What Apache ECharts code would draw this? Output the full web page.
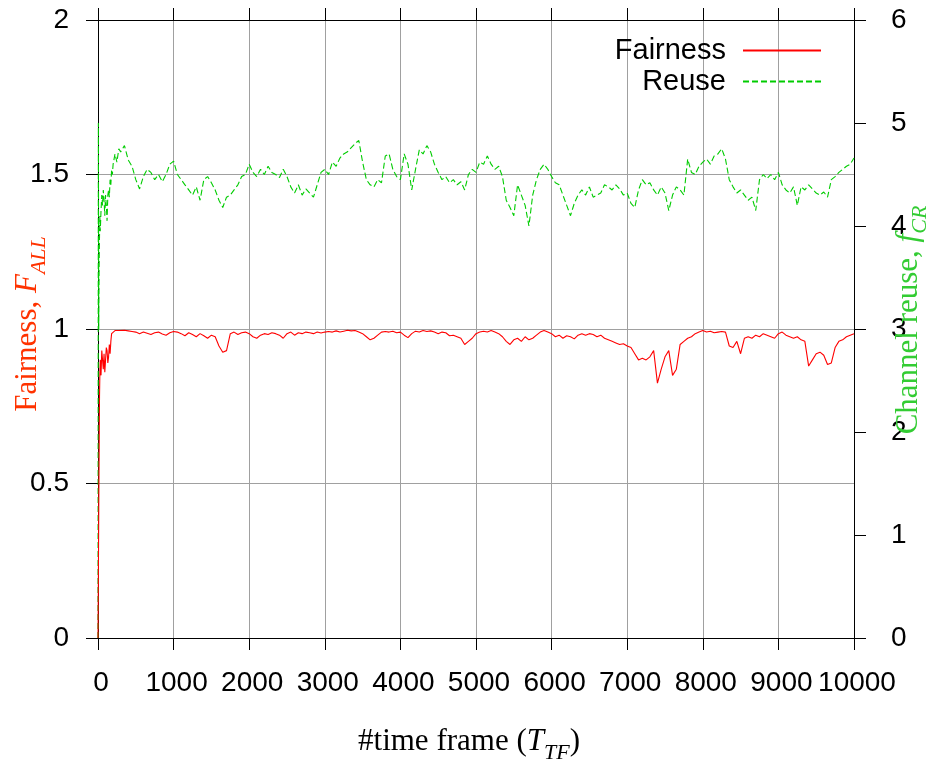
<!DOCTYPE html>
<html>
<head>
<meta charset="utf-8">
<script src="https://cdn.jsdelivr.net/npm/echarts@6/dist/echarts.min.js"></script>
<style>
html,body{margin:0;padding:0;background:#fff;}
#chart{width:931px;height:765px;}
</style>
</head>
<body>
<div id="chart"></div>
<script>
// time frames (x values)
const timeFrames = [
  0,5,10,15,20,25,30,40,50,60,70,80,90,100,110,120,130,140,150,160,170,180,190,200,225,250,275,
  300,350,400,450,500,550,600,650,700,750,800,850,900,950,
  1000,1050,1100,1150,1200,1250,1300,1350,1400,1450,1500,1550,1600,1650,1700,1750,1800,1850,1900,1950,
  2000,2050,2100,2150,2200,2250,2300,2350,2400,2450,2500,2550,2600,2650,2700,2750,2800,2850,2900,2950,
  3000,3050,3100,3150,3200,3250,3300,3350,3400,3450,3500,3550,3600,3650,3700,3750,3800,3850,3900,3950,
  4000,4050,4100,4150,4200,4250,4300,4350,4400,4450,4500,4550,4600,4650,4700,4750,4800,4850,4900,4950,
  5000,5050,5100,5150,5200,5250,5300,5350,5400,5450,5500,5550,5600,5650,5700,5750,5800,5850,5900,5950,
  6000,6050,6100,6150,6200,6250,6300,6350,6400,6450,6500,6550,6600,6650,6700,6750,6800,6850,6900,6950,
  7000,7050,7100,7150,7200,7250,7300,7350,7400,7450,7500,7550,7600,7650,7700,7750,7800,7850,7900,7950,
  8000,8050,8100,8150,8200,8250,8300,8350,8400,8450,8500,8550,8600,8650,8700,8750,8800,8850,8900,8950,
  9000,9050,9100,9150,9200,9250,9300,9350,9400,9450,9500,9550,9600,9650,9700,9750,9800,9850,9900,9950,
  10000
];

// Fairness F_ALL (left axis)
const fairness = [
  0,0.2,0.42,0.6,0.78,0.86,0.9,0.85,0.93,0.9,0.87,0.92,0.86,0.9,0.94,0.93,0.89,0.91,0.95,0.92,0.96,0.985,0.99,0.99,0.995,0.99,0.995,
  0.993,0.996,0.994,0.992,0.99,0.985,0.99,0.986,0.982,0.988,0.99,0.984,0.98,0.988,
  0.992,0.99,0.985,0.978,0.988,0.982,0.975,0.985,0.978,0.97,0.98,0.975,0.945,0.925,0.93,0.985,0.99,0.982,0.988,0.99,
  0.985,0.975,0.97,0.98,0.985,0.982,0.988,0.985,0.98,0.97,0.985,0.99,0.98,0.988,0.985,0.99,0.988,0.985,0.99,0.987,
  0.99,0.992,0.99,0.994,0.99,0.993,0.996,0.994,0.995,0.99,0.985,0.975,0.965,0.97,0.98,0.99,0.992,0.99,0.993,0.988,
  0.99,0.98,0.972,0.985,0.993,0.99,0.995,0.992,0.994,0.99,0.985,0.99,0.988,0.978,0.98,0.975,0.97,0.95,0.96,0.97,
  0.985,0.99,0.993,0.99,0.995,0.99,0.985,0.975,0.96,0.95,0.965,0.97,0.96,0.975,0.965,0.97,0.98,0.99,0.995,0.99,
  0.985,0.975,0.98,0.97,0.978,0.975,0.968,0.98,0.985,0.98,0.985,0.982,0.975,0.98,0.97,0.965,0.96,0.955,0.95,0.952,
  0.945,0.94,0.92,0.9,0.905,0.9,0.91,0.93,0.825,0.87,0.91,0.93,0.85,0.87,0.95,0.96,0.97,0.975,0.985,0.99,
  0.995,0.99,0.993,0.988,0.99,0.992,0.99,0.945,0.94,0.96,0.92,0.97,0.975,0.97,0.98,0.975,0.985,0.98,0.975,0.97,
  0.985,0.99,0.98,0.975,0.97,0.975,0.965,0.96,0.88,0.9,0.92,0.925,0.915,0.885,0.89,0.94,0.96,0.965,0.975,0.98,
  0.985
];

// Channel reuse f_CR (right axis)
const reuse = [
  0,5.0,3.0,3.6,3.9,4.1,3.95,4.15,4.3,4.2,4.35,4.25,4.1,4.3,4.2,4.05,4.3,4.35,4.28,4.45,4.4,4.55,4.5,4.6,4.7,4.62,4.75,
  4.72,4.78,4.64,4.58,4.45,4.36,4.48,4.55,4.52,4.45,4.5,4.43,4.5,4.6,
  4.63,4.5,4.45,4.4,4.35,4.3,4.38,4.25,4.45,4.48,4.42,4.35,4.25,4.18,4.28,4.3,4.35,4.4,4.48,4.5,
  4.6,4.52,4.48,4.55,4.5,4.58,4.52,4.5,4.47,4.55,4.48,4.38,4.32,4.4,4.3,4.36,4.32,4.28,4.4,4.52,
  4.55,4.5,4.62,4.58,4.66,4.7,4.72,4.76,4.8,4.83,4.62,4.45,4.4,4.38,4.45,4.42,4.68,4.7,4.55,4.48,
  4.45,4.7,4.6,4.35,4.55,4.74,4.7,4.78,4.72,4.6,4.52,4.45,4.48,4.42,4.45,4.4,4.43,4.35,4.5,4.55,
  4.52,4.62,4.6,4.68,4.6,4.55,4.58,4.48,4.25,4.18,4.1,4.4,4.3,4.2,4.0,4.3,4.45,4.55,4.6,4.55,
  4.48,4.42,4.4,4.3,4.2,4.1,4.22,4.3,4.35,4.3,4.38,4.28,4.3,4.32,4.4,4.38,4.35,4.4,4.36,4.3,
  4.32,4.22,4.18,4.35,4.45,4.4,4.42,4.35,4.3,4.38,4.32,4.15,4.3,4.38,4.35,4.3,4.65,4.52,4.5,4.58,
  4.62,4.65,4.6,4.68,4.7,4.75,4.65,4.45,4.38,4.32,4.35,4.3,4.25,4.28,4.15,4.45,4.5,4.46,4.5,4.45,
  4.52,4.4,4.35,4.32,4.38,4.2,4.38,4.35,4.4,4.36,4.32,4.3,4.33,4.28,4.45,4.48,4.52,4.55,4.58,4.6,
  4.66
];

const seriesNames = ['Fairness', 'Reuse'];

const chart = echarts.init(document.getElementById('chart'), null, {renderer: 'canvas'});

const sansFont = 'Liberation Sans, Arial, sans-serif';
const serifFont = 'Liberation Serif, Times New Roman, serif';
const gridColor = '#a0a0a0';

const fairData = timeFrames.map((t, i) => [t, fairness[i]]);
const reuseData = timeFrames.map((t, i) => [t, reuse[i]]);

function axisTitle(parts, color) {
  // parts: array of [text, kind] kind: 'n' normal, 'i' italic, 's' italic subscript
  const rich = {
    n: {fontSize: 31, fontFamily: serifFont, fill: color, lineHeight: 38, verticalAlign: 'top'},
    i: {fontSize: 31, fontFamily: serifFont, fontStyle: 'italic', fill: color, lineHeight: 38, verticalAlign: 'top'},
    s: {fontSize: 22, fontFamily: serifFont, fontStyle: 'italic', fill: color, lineHeight: 22, verticalAlign: 'bottom'}
  };
  return {
    text: parts.map(p => '{' + p[1] + '|' + p[0] + '}').join(''),
    rich: rich,
    fill: color,
    align: 'center',
    verticalAlign: 'middle'
  };
}

const option = {
  animation: false,
  backgroundColor: '#fff',
  grid: {left: 98, right: 77, top: 20, bottom: 127, containLabel: false},
  legend: {
    data: seriesNames,
    orient: 'vertical',
    align: 'right',
    right: 104,
    top: 31,
    itemWidth: 78,
    itemHeight: 14,
    itemGap: 2,
    itemStyle: {opacity: 0},
    textStyle: {fontSize: 29, fontFamily: sansFont, color: '#000', padding: [0, 12, 0, 0]}
  },
  xAxis: [
    {
      type: 'value', min: 0, max: 10000, interval: 1000, position: 'bottom',
      axisLine: {show: true, onZero: false, lineStyle: {color: '#000', width: 1}},
      axisTick: {show: true, inside: false, length: 12, lineStyle: {color: '#000', width: 1}},
      axisLabel: {fontSize: 28, fontFamily: sansFont, color: '#000', margin: 31, padding: [0, 0, 0, 6],
                  showMinLabel: true, showMaxLabel: true, hideOverlap: false,
                  formatter: v => String(v)},
      splitLine: {show: true, lineStyle: {color: gridColor, width: 1}}
    },
    {
      type: 'value', min: 0, max: 10000, interval: 1000, position: 'top',
      axisLine: {show: true, onZero: false, lineStyle: {color: '#000', width: 1}},
      axisTick: {show: true, inside: false, length: 12, lineStyle: {color: '#000', width: 1}},
      axisLabel: {show: false},
      splitLine: {show: false}
    }
  ],
  yAxis: [
    {
      type: 'value', min: 0, max: 2, interval: 0.5, position: 'left',
      axisLine: {show: true, onZero: false, lineStyle: {color: '#000', width: 1}},
      axisTick: {show: true, inside: false, length: 12, lineStyle: {color: '#000', width: 1}},
      axisLabel: {fontSize: 28, fontFamily: sansFont, color: '#000', margin: 29, formatter: v => String(v)},
      splitLine: {show: true, lineStyle: {color: gridColor, width: 1}}
    },
    {
      type: 'value', min: 0, max: 6, interval: 1, position: 'right',
      axisLine: {show: true, onZero: false, lineStyle: {color: '#000', width: 1}},
      axisTick: {show: true, inside: false, length: 12, lineStyle: {color: '#000', width: 1}},
      axisLabel: {fontSize: 28, fontFamily: sansFont, color: '#000', margin: 37, formatter: v => String(v)},
      splitLine: {show: false}
    }
  ],
  graphic: [
    {
      type: 'text', x: 31, y: 324, rotation: Math.PI / 2, z: 100,
      style: axisTitle([['Fairness, ', 'n'], ['F', 'i'], ['ALL', 's']], '#ff3300')
    },
    {
      type: 'text', x: 912, y: 320, rotation: Math.PI / 2, z: 100,
      style: axisTitle([['Channel reuse, ', 'n'], ['f', 'i'], ['CR', 's']], '#33cc33')
    },
    {
      type: 'text', x: 469, y: 745, z: 100,
      style: axisTitle([['#time frame (', 'n'], ['T', 'i'], ['TF', 's'], [')', 'n']], '#000')
    }
  ],
  series: [
    {
      name: seriesNames[0], type: 'line', xAxisIndex: 0, yAxisIndex: 0,
      data: fairData, symbol: 'none', showSymbol: false,
      color: '#ff0000',
      lineStyle: {color: '#ff0000', width: 1.1},
      z: 3
    },
    {
      name: seriesNames[1], type: 'line', xAxisIndex: 0, yAxisIndex: 1,
      data: reuseData, symbol: 'none', showSymbol: false,
      color: '#00cc00',
      lineStyle: {color: '#00cc00', width: 1.1, type: [6, 3]},
      z: 2
    }
  ]
};

chart.setOption(option);
</script>
</body>
</html>
